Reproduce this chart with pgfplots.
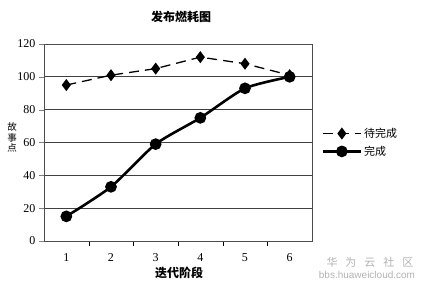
\documentclass[border=0pt]{standalone}
\usepackage{pgfplots}
\pgfplotsset{compat=1.18}
\usepackage{fontspec}
\setmainfont{Liberation Serif}
\newfontfamily\cjk{Noto Sans CJK SC}
\newfontfamily\wm{Liberation Sans}
\begin{document}
\begin{tikzpicture}
\useasboundingbox (0pt,0pt) rectangle (424pt,288pt);
\begin{axis}[
  at={(44pt,47pt)}, anchor=south west,
  scale only axis, width=268pt, height=197pt,
  xmin=0.5, xmax=6.5, ymin=0, ymax=120,
  xtick={1,2,3,4,5,6},
  minor xtick={1.5,2.5,3.5,4.5,5.5},
  extra x ticks={0.5,6.5}, extra x tick labels={},
  extra x tick style={major tick length=5pt, tick style={black}},
  major x tick style={draw=none},
  minor x tick style={black},
  minor tick length=5pt,
  ytick={0,20,40,60,80,100,120},
  ymajorgrids, grid style={black!75, line width=0.8pt},
  major tick length=5pt,
  tick align=outside, tick pos=left,
  axis line style={black!70, line width=0.8pt},
  ticklabel style={font=\fontsize{12}{12}\selectfont},
  /pgf/number format/assume math mode=true,
  xticklabel style={yshift=-4pt},
  legend style={at={(1.035,0.5)}, anchor=west, draw=none, fill=none,
    font=\cjk\fontsize{11}{11}\selectfont, row sep=3pt, inner xsep=0pt},
  legend cell align=left,
  legend image code/.code={%
    \draw[mark repeat=2,mark phase=2,#1] plot coordinates {(0pt,0pt) (19pt,0pt) (38pt,0pt)};},
]
\addplot[black, line width=1.3pt, dash pattern=on 10pt off 6pt,
  mark=diamond*, mark size=5pt, mark options={solid}]
  coordinates {(1,95) (2,101) (3,105) (4,112) (5,108) (6,101)};
\addlegendentry{待完成}
\addplot[black, line width=2.6pt, smooth, tension=0.4,
  mark=*, mark size=4.5pt, mark options={solid}]
  coordinates {(1,15) (2,33) (3,59) (4,75) (5,93) (6,100)};
\addlegendentry{完成}
\end{axis}
\node[font=\cjk\bfseries\fontsize{12}{12}\selectfont] at (181pt,271pt) {发布燃耗图};
\node[font=\cjk\bfseries\fontsize{12}{12}\selectfont] at (179pt,15pt) {迭代阶段};
\node[font=\cjk\fontsize{9.5}{9.5}\selectfont, inner sep=0pt] at (12pt,161pt) {故};
\node[font=\cjk\fontsize{9.5}{9.5}\selectfont, inner sep=0pt] at (12pt,150.5pt) {事};
\node[font=\cjk\fontsize{9.5}{9.5}\selectfont, inner sep=0pt] at (12pt,140pt) {点};
\node[font=\cjk\fontsize{11}{11}\selectfont, text=black!30] at (370pt,26pt) {华\hspace{8pt}为\hspace{8pt}云\hspace{8pt}社\hspace{8pt}区};
\node[font=\wm\fontsize{10}{10}\selectfont, text=black!30] at (367pt,13pt) {bbs.huaweicloud.com};
\end{tikzpicture}
\end{document}
